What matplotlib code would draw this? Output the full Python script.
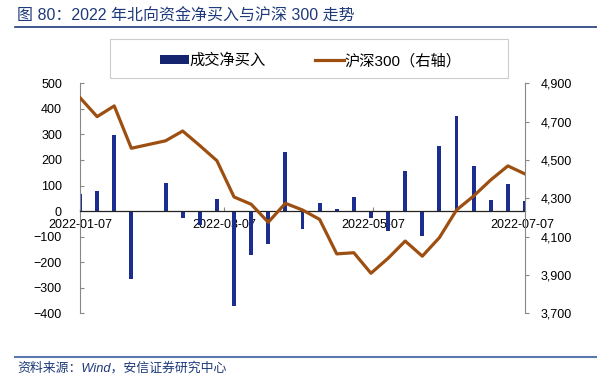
import pandas as pd
import matplotlib.pyplot as plt
import matplotlib.dates as mdates
from matplotlib.ticker import FuncFormatter, FixedLocator
from matplotlib.lines import Line2D
from matplotlib.patches import Patch, Rectangle

plt.rcParams['font.family'] = ['Liberation Sans', 'Noto Sans CJK SC', 'DejaVu Sans']

# Weekly data (Fridays), Feb 4 market closed for Spring Festival
dates = ["2022-01-07", "2022-01-14", "2022-01-21", "2022-01-28", "2022-02-11",
         "2022-02-18", "2022-02-25", "2022-03-04", "2022-03-11", "2022-03-18",
         "2022-03-25", "2022-04-01", "2022-04-08", "2022-04-15", "2022-04-22",
         "2022-04-29", "2022-05-06", "2022-05-13", "2022-05-20", "2022-05-27",
         "2022-06-03", "2022-06-10", "2022-06-17", "2022-06-24", "2022-07-01",
         "2022-07-08"]
net_buy = [66, 77, 296, -266, 110, -28, -55, 46, -370, -172, -130, 232, -70, 33, 9,
           55, -28, -79, 156, -97, 255, 372, 176, 43, 105, 38]
hs300 = [4825, 4726, 4782, 4561, 4600, 4651, 4575, 4496, 4307, 4269, 4175, 4274,
         4239, 4190, 4010, 4016, 3909, 3987, 4077, 3998, 4095, 4239, 4312, 4396,
         4469, 4427]
tick_dates = ["2022-01-07", "2022-03-07", "2022-05-07", "2022-07-07"]

bar_color = "#1b2d8f"
line_color = "#9c4f10"
title_color = "#1f3a7a"

x = pd.to_datetime(dates)

fig = plt.figure(figsize=(5.97, 3.80), dpi=100)
ax = fig.add_axes([80 / 597, 1 - 313.3 / 380, 445 / 597, 230 / 380])
ax2 = ax.twinx()

ax.bar(x, net_buy, width=1.6, color=bar_color, zorder=2)
ax2.plot(x, hs300, color=line_color, linewidth=2.3, zorder=3)

ax.set_xlim(pd.Timestamp("2022-01-07"), pd.Timestamp("2022-07-08"))
ax.set_ylim(-400, 500)
ax.set_yticks(range(-400, 501, 100))
ax2.set_ylim(3700, 4900)
ax2.set_yticks(range(3700, 4901, 200))
ax2.yaxis.set_major_formatter(FuncFormatter(lambda v, p: f"{int(v):,}"))

ax.xaxis.set_major_locator(FixedLocator(mdates.date2num(pd.to_datetime(tick_dates))))
ax.xaxis.set_major_formatter(mdates.DateFormatter("%Y-%m-%d"))

# Spines
for a in (ax, ax2):
    a.spines['top'].set_visible(False)
    a.spines['left'].set_color("#888888")
    a.spines['right'].set_color("#888888")
    a.spines['bottom'].set_visible(False)
ax.spines['bottom'].set_visible(True)
ax.spines['bottom'].set_position(('data', 0))
ax.spines['bottom'].set_color("#222222")
ax.spines['bottom'].set_linewidth(0.9)
ax2.spines['left'].set_visible(False)
ax.spines['right'].set_visible(False)

ax.tick_params(axis='y', direction='in', length=3, color="#888888", pad=13, labelsize=9)
ax2.tick_params(axis='y', direction='out', length=3, color="#888888", pad=8, labelsize=9)
ax.tick_params(axis='x', direction='in', length=3, color="#888888", pad=6, labelsize=9)

# Legend (frame drawn separately to get the wide box)
fig.add_artist(Rectangle((110 / 597, 1 - 78 / 380), 398 / 597, 39 / 380,
                         transform=fig.transFigure, facecolor="white",
                         edgecolor="#cccccc", linewidth=0.8))
handles = [Patch(facecolor="#14246e", edgecolor="none"),
           Line2D([0], [0], color=line_color, linewidth=2.3)]
fig.legend(handles, ["成交净买入", "沪深300（右轴）"], loc='center left',
           bbox_to_anchor=(160 / 597, 1 - 61 / 380), ncol=2, fontsize=11,
           frameon=False, handlelength=1.9, handleheight=0.5,
           columnspacing=3.2, borderpad=0, borderaxespad=0, handletextpad=0.05)

# Title and source
fig.text(17 / 597, 1 - 16 / 380, "图 80：2022 年北向资金净买入与沪深 300 走势",
         fontsize=11.5, color=title_color, va='center', ha='left')
fig.add_artist(Line2D([15 / 597, 1], [1 - 27 / 380, 1 - 27 / 380],
                      color=title_color, linewidth=1.2))
fig.add_artist(Line2D([15 / 597, 1], [1 - 357 / 380, 1 - 357 / 380],
                      color="#5a78b0", linewidth=1.5))
fig.text(17 / 597, 1 - 368 / 380, "资料来源：Wind，安信证券研究中心",
         fontsize=9.3, color=title_color, va='center', ha='left', style='italic')

fig.savefig("out.png", dpi=100)
